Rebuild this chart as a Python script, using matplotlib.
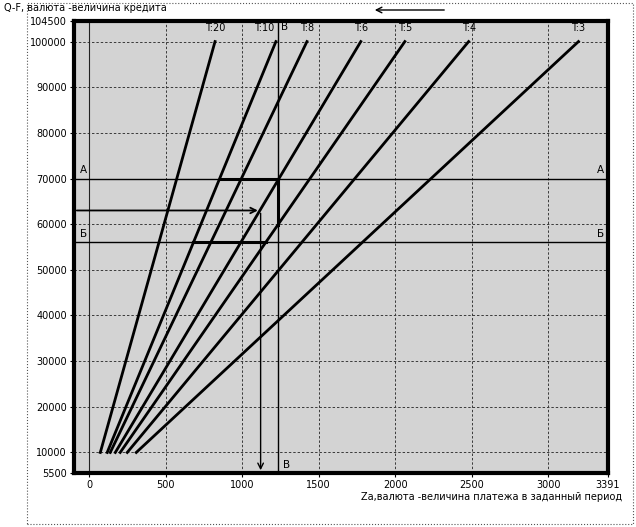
import numpy as np
from matplotlib import pyplot as plt
from matplotlib.patches import Rectangle, FancyArrowPatch

# lines Q(Z) for different terms T
t_labels = ["T:20", "T:10", "T:8", "T:6", "T:5", "T:4", "T:3"]
z_start = [72, 117, 137, 170, 202, 248, 307]
z_end = [822, 1220, 1423, 1775, 2063, 2480, 3198]
q_start = 10000
q_end = 100000

# helper levels
q_A = 70000
q_B = 56000
q_arrow = 63000
z_V = 1234
z_arrow = 1120

xticks = [0, 500, 1000, 1500, 2000, 2500, 3000, 3391]
yticks = [5500, 10000, 20000, 30000, 40000, 50000, 60000, 70000, 80000, 90000, 100000, 104500]


def z_at(i, q):
    return np.interp(q, [q_start, q_end], [z_start[i], z_end[i]])


fig = plt.figure(figsize=(6.36, 5.27), dpi=100)
ax = fig.add_axes([74/636, 1-473/527, (608-74)/636, (473-21)/527])
ax.set_facecolor('#d3d3d3')

ax.set_xlim(-100, 3391)
ax.set_ylim(5500, 104500)

# grid
for x in xticks[1:-1]:
    ax.axvline(x, color='#3a3a3a', lw=0.7, ls=(0, (2.5, 2)), zorder=1)
for y in yticks[1:-1]:
    ax.axhline(y, color='#3a3a3a', lw=0.7, ls=(0, (2.5, 2)), zorder=1)
ax.axvline(0, color='#222222', lw=0.8, zorder=1)

for i, lab in enumerate(t_labels):
    ax.plot([z_start[i], z_end[i]], [q_start, q_end], color='black', lw=2, zorder=3)
    if lab == "T:10":
        ax.text(z_V - 25, q_end + 1800, lab, ha='right', va='bottom', fontsize=7)
    else:
        ax.text(z_end[i], q_end + 1800, lab, ha='center', va='bottom', fontsize=7)

# А and Б levels, В line
ax.axhline(q_A, color='black', lw=1, zorder=2)
ax.axhline(q_B, color='black', lw=1, zorder=2)
ax.axvline(z_V, color='black', lw=1, zorder=2)

# thick construction segments
ax.plot([z_at(1, q_A), z_V], [q_A, q_A], color='black', lw=2.2, zorder=4)
q_v = np.interp(z_V, [z_start[4], z_end[4]], [q_start, q_end])
ax.plot([z_V, z_V], [q_A, q_v], color='black', lw=2.2, zorder=4)
ax.plot([z_at(1, q_B), z_at(4, q_B)], [q_B, q_B], color='black', lw=2.2, zorder=4)

# arrows
ax.annotate('', xy=(z_arrow, q_arrow), xytext=(-100, q_arrow),
            arrowprops=dict(arrowstyle='->', color='black', lw=1.3), zorder=5)
ax.annotate('', xy=(z_arrow, 5500), xytext=(z_arrow, q_arrow),
            arrowprops=dict(arrowstyle='->', color='black', lw=1), zorder=5)

# letters
ax.text(-60, q_A + 800, 'А', fontsize=7.5, ha='left', va='bottom')
ax.text(3320, q_A + 800, 'А', fontsize=7.5, ha='left', va='bottom')
ax.text(-60, q_B + 800, 'Б', fontsize=7.5, ha='left', va='bottom')
ax.text(3320, q_B + 800, 'Б', fontsize=7.5, ha='left', va='bottom')
ax.text(z_V + 20, 102000, 'В', fontsize=7.5, ha='left', va='bottom')
ax.text(z_V + 30, 6200, 'В', fontsize=7.5, ha='left', va='bottom')

ax.set_xticks(xticks, [str(x) for x in xticks], fontsize=7)
ax.set_yticks(yticks, [str(y) for y in yticks], fontsize=7)
ax.tick_params(length=3, width=0.8, pad=2)

for s in ax.spines.values():
    s.set_linewidth(3)

fig.text(4/636, 1-8/527, 'Q-F, валюта -величина кредита', fontsize=7, va='center', ha='left')
fig.text(622/636, 1-497/527, 'Zа,валюта -величина платежа в заданный период',
         fontsize=7, va='center', ha='right')

# arrow above the chart
fig.patches.append(FancyArrowPatch(
    (447/636, 1-10/527), (372/636, 1-10/527), transform=fig.transFigure,
    arrowstyle='->', mutation_scale=10, color='black', lw=1))

# dotted frame
fig.patches.append(Rectangle((27/636, 3/527), (633-27)/636, (527-6)/527,
                             transform=fig.transFigure, fill=False,
                             ls=':', lw=0.8, edgecolor='#555555'))

fig.savefig('out.png', dpi=100)
